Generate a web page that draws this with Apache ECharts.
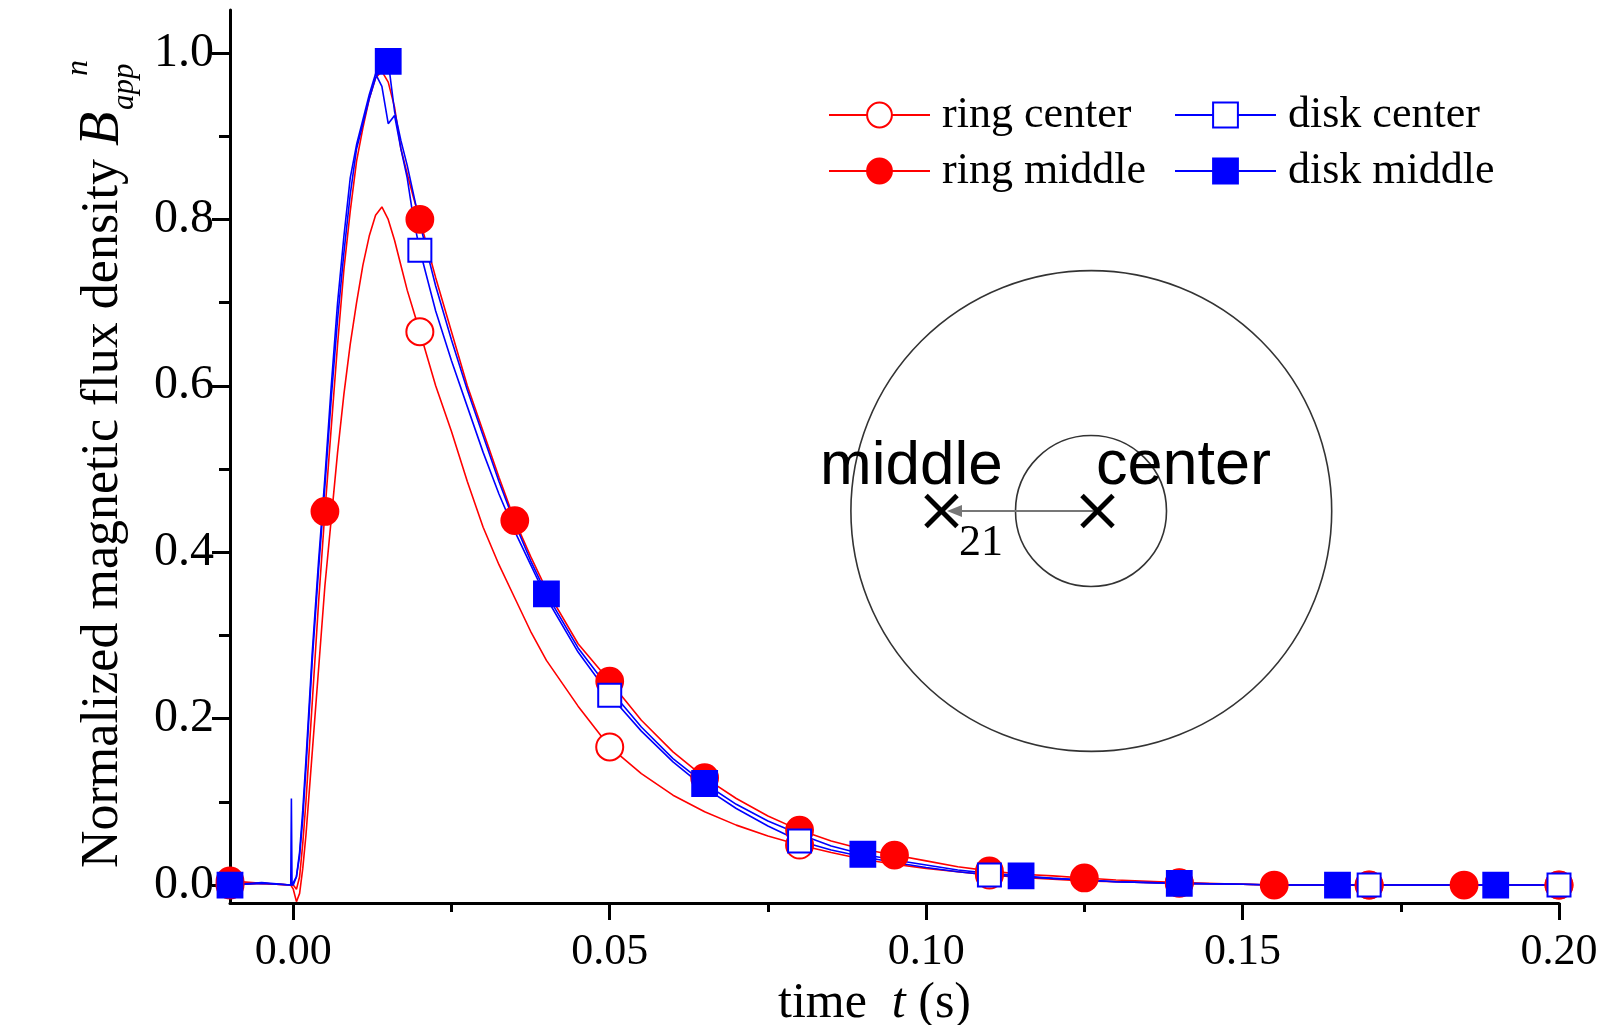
<!DOCTYPE html>
<html>
<head>
<meta charset="utf-8">
<script src="https://cdn.jsdelivr.net/npm/echarts@6/dist/echarts.min.js"></script>
<style>
html, body { margin: 0; padding: 0; background: #fff; }
#chart { width: 1610px; height: 1025px; }
</style>
</head>
<body>
<div id="chart"></div>
<script>
// time (s)
var time = [
    -0.01, -0.005, -0.0004, -0.0003, -0.0002, 0,
    0.0005, 0.001, 0.0015, 0.002, 0.003, 0.004, 0.005, 0.006, 0.007, 0.008, 0.009, 0.01,
    0.011, 0.012, 0.013, 0.014, 0.015, 0.016, 0.017, 0.018, 0.019, 0.02,
    0.0225, 0.025, 0.0275, 0.03, 0.0325, 0.035, 0.0375, 0.04,
    0.045, 0.05, 0.055, 0.06, 0.065, 0.07, 0.075, 0.08,
    0.085, 0.09, 0.095, 0.1, 0.105, 0.11, 0.115, 0.12, 0.125, 0.13,
    0.14, 0.15, 0.155, 0.16, 0.165, 0.17, 0.18, 0.185, 0.19, 0.2
];
var ringCenter = [
    0, 0.002, 0, 0, 0, -0.005,
    -0.02, -0.01, 0.02, 0.06, 0.16, 0.26, 0.36, 0.44, 0.52, 0.59, 0.65, 0.70,
    0.745, 0.78, 0.805, 0.815, 0.80, 0.775, 0.745, 0.715, 0.69, 0.665,
    0.60, 0.545, 0.485, 0.43, 0.385, 0.345, 0.305, 0.27,
    0.215, 0.166, 0.134, 0.108, 0.088, 0.072, 0.059, 0.048,
    0.039, 0.031, 0.025, 0.02, 0.016, 0.012, 0.009, 0.007, 0.005, 0.004,
    0.002, 0.001, 0, 0, 0, 0, 0, 0, 0, 0
];
var ringMiddle = [
    0.005, 0.002, 0, 0, 0, 0,
    -0.005, 0.01, 0.05, 0.10, 0.22, 0.34, 0.449, 0.55, 0.65, 0.74, 0.81, 0.87,
    0.91, 0.945, 0.97, 0.978, 0.965, 0.935, 0.885, 0.855, 0.826, 0.80,
    0.73, 0.665, 0.60, 0.545, 0.49, 0.438, 0.395, 0.355,
    0.29, 0.245, 0.198, 0.16, 0.129, 0.104, 0.083, 0.066,
    0.053, 0.043, 0.036, 0.029, 0.022, 0.017, 0.013, 0.011, 0.0085, 0.006,
    0.003, 0.001, 0, 0, 0, 0, 0, 0, 0, 0
];
var diskCenter = [
    0, 0.003, 0, 0.104, 0, 0,
    0.01, 0.04, 0.09, 0.15, 0.28, 0.39, 0.49, 0.60, 0.70, 0.78, 0.85, 0.89,
    0.92, 0.95, 0.975, 0.96, 0.915, 0.925, 0.885, 0.85, 0.80, 0.763,
    0.69, 0.63, 0.575, 0.52, 0.47, 0.425, 0.385, 0.345,
    0.28, 0.228, 0.185, 0.148, 0.117, 0.092, 0.071, 0.053,
    0.042, 0.034, 0.027, 0.021, 0.016, 0.012, 0.01, 0.008, 0.006, 0.004,
    0.002, 0.001, 0, 0, 0, 0, 0, 0, 0, 0
];
var diskMiddle = [
    0, 0.002, 0, 0, 0, 0,
    0.01, 0.035, 0.08, 0.14, 0.27, 0.38, 0.48, 0.585, 0.68, 0.76, 0.83, 0.885,
    0.915, 0.945, 0.97, 0.985, 0.99, 0.93, 0.895, 0.865, 0.83, 0.795,
    0.72, 0.655, 0.595, 0.54, 0.485, 0.435, 0.39, 0.35,
    0.285, 0.235, 0.19, 0.152, 0.122, 0.097, 0.077, 0.061,
    0.047, 0.037, 0.03, 0.024, 0.018, 0.014, 0.011, 0.008, 0.006, 0.004,
    0.002, 0.001, 0, 0, 0, 0, 0, 0, 0, 0
];
// times where the markers sit
var ringCenterMarks = [-0.01, 0.02, 0.05, 0.08, 0.11, 0.14, 0.17, 0.2];
var ringMiddleMarks = [-0.01, 0.005, 0.02, 0.035, 0.05, 0.065, 0.08, 0.095, 0.11, 0.125, 0.14, 0.155, 0.17, 0.185, 0.2];
var diskCenterMarks = [-0.01, 0.02, 0.05, 0.08, 0.11, 0.14, 0.17, 0.2];
var diskMiddleMarks = [-0.01, 0.015, 0.04, 0.065, 0.09, 0.115, 0.14, 0.165, 0.19];
// tick labels
var xMajor = [0, 0.05, 0.10, 0.15, 0.20];
var xMinor = [0.025, 0.075, 0.125, 0.175];
var yMajor = [0, 0.2, 0.4, 0.6, 0.8, 1.0];
var yMinor = [0.1, 0.3, 0.5, 0.7, 0.9];

var serif = '"Liberation Serif", "Times New Roman", serif';
var sans = '"Liberation Sans", Arial, sans-serif';

function isMark(marks, t) {
    for (var i = 0; i < marks.length; i++) {
        if (Math.abs(marks[i] - t) < 1e-7) return true;
    }
    return false;
}

function makeSeries(name, vals, marks, symbol, color, size) {
    return {
        name: name,
        type: 'line',
        xAxisIndex: 0,
        yAxisIndex: 0,
        symbol: symbol,
        symbolSize: size,
        showSymbol: true,
        animation: false,
        lineStyle: { color: color, width: 1.6 },
        itemStyle: { color: color, borderColor: color, borderWidth: 1.8 },
        emphasis: { disabled: true },
        data: time.map(function (t, i) {
            var p = { value: [t, vals[i]] };
            if (!isMark(marks, t)) p.symbol = 'none';
            return p;
        })
    };
}

var myChart = echarts.init(document.getElementById('chart'), null, { renderer: 'canvas' });

var option = {
    backgroundColor: '#fff',
    animation: false,
    grid: { left: 230, right: 51, top: 10, bottom: 122, containLabel: false, outerBoundsMode: 'none' },
    legend: [{
        data: ['ring center', 'ring middle'],
        orient: 'vertical',
        left: 823,
        top: 88,
        itemWidth: 101,
        itemHeight: 31,
        itemGap: 12,
        selectedMode: false,
        textStyle: { fontFamily: serif, fontSize: 44, color: '#000', padding: [0, 0, 0, 7] }
    }, {
        data: ['disk center', 'disk middle'],
        orient: 'vertical',
        left: 1169,
        top: 88,
        itemWidth: 101,
        itemHeight: 31,
        itemGap: 12,
        selectedMode: false,
        textStyle: { fontFamily: serif, fontSize: 44, color: '#000', padding: [0, 0, 0, 7] }
    }],
    xAxis: [{
        type: 'value',
        position: 'bottom',
        min: -0.01,
        max: 0.2,
        axisLine: { show: true, onZero: false, lineStyle: { color: '#000', width: 3 } },
        axisTick: { show: true, length: 17, customValues: xMajor, lineStyle: { color: '#000', width: 3 } },
        axisLabel: {
            show: true, customValues: xMajor, margin: 27,
            fontFamily: serif, fontSize: 44, color: '#000',
            formatter: function (v) { return v.toFixed(2); }
        },
        splitLine: { show: false },
        name: '{a|time  }{b|t}{a| (s)}',
        nameLocation: 'middle',
        nameGap: 68,
        nameTextStyle: {
            padding: [0, 40, 0, 0],
            rich: {
                a: { fontFamily: serif, fontSize: 50, color: '#000', lineHeight: 50 },
                b: { fontFamily: serif, fontSize: 50, color: '#000', lineHeight: 50, fontStyle: 'italic' }
            }
        }
    }, {
        type: 'value',
        position: 'bottom',
        min: -0.01,
        max: 0.2,
        axisLine: { show: false, onZero: false },
        axisTick: { show: true, length: 9, customValues: xMinor, lineStyle: { color: '#000', width: 3 } },
        axisLabel: { show: false },
        splitLine: { show: false }
    }],
    yAxis: [{
        type: 'value',
        position: 'left',
        min: -0.0216,
        max: 1.0517,
        axisLine: { show: true, onZero: false, lineStyle: { color: '#000', width: 3 } },
        axisTick: { show: true, length: 18, customValues: yMajor, lineStyle: { color: '#000', width: 3 } },
        axisLabel: {
            show: true, customValues: yMajor, margin: 16,
            fontFamily: serif, fontSize: 48, color: '#000',
            formatter: function (v) { return v.toFixed(1); }
        },
        splitLine: { show: false }
    }, {
        type: 'value',
        position: 'left',
        min: -0.0216,
        max: 1.0517,
        axisLine: { show: false, onZero: false },
        axisTick: { show: true, length: 11, customValues: yMinor, lineStyle: { color: '#000', width: 3 } },
        axisLabel: { show: false },
        splitLine: { show: false }
    }],
    series: [
        makeSeries('ring center', ringCenter, ringCenterMarks, 'emptyCircle', '#ff0000', 27),
        makeSeries('ring middle', ringMiddle, ringMiddleMarks, 'circle', '#ff0000', 27),
        makeSeries('disk center', diskCenter, diskCenterMarks, 'emptyRect', '#0000ff', 23),
        makeSeries('disk middle', diskMiddle, diskMiddleMarks, 'rect', '#0000ff', 25)
    ],
    graphic: [
        // y axis title, rotated
        {
            type: 'group', x: 103, y: 868, rotation: Math.PI / 2, silent: true,
            children: [
                { type: 'text', x: 0, y: 0, style: { text: 'Normalized magnetic flux density', font: '52px ' + serif, fill: '#000', verticalAlign: 'middle', align: 'left' } },
                { type: 'text', x: 722, y: 0, style: { text: 'B', font: 'italic 56px ' + serif, fill: '#000', verticalAlign: 'middle', align: 'left' } },
                { type: 'text', x: 758, y: 22, style: { text: 'app', font: 'italic 31px ' + serif, fill: '#000', verticalAlign: 'middle', align: 'left' } },
                { type: 'text', x: 792, y: -24, style: { text: 'n', font: 'italic 32px ' + serif, fill: '#000', verticalAlign: 'middle', align: 'left' } }
            ]
        },
        // inset sketch
        { type: 'circle', silent: true, shape: { cx: 1091.3, cy: 511, r: 240.4 }, style: { fill: 'none', stroke: '#333', lineWidth: 1.6 } },
        { type: 'circle', silent: true, shape: { cx: 1091, cy: 511, r: 75.5 }, style: { fill: 'none', stroke: '#333', lineWidth: 1.6 } },
        { type: 'line', silent: true, shape: { x1: 1097.7, y1: 511, x2: 958, y2: 511 }, style: { stroke: '#777', lineWidth: 2 } },
        { type: 'polygon', silent: true, shape: { points: [[947, 511], [962, 505], [962, 517]] }, style: { fill: '#777' } },
        { type: 'line', silent: true, shape: { x1: 926, y1: 495.5, x2: 957, y2: 526.5 }, style: { stroke: '#000', lineWidth: 5 } },
        { type: 'line', silent: true, shape: { x1: 926, y1: 526.5, x2: 957, y2: 495.5 }, style: { stroke: '#000', lineWidth: 5 } },
        { type: 'line', silent: true, shape: { x1: 1082, y1: 495.5, x2: 1113, y2: 526.5 }, style: { stroke: '#000', lineWidth: 5 } },
        { type: 'line', silent: true, shape: { x1: 1082, y1: 526.5, x2: 1113, y2: 495.5 }, style: { stroke: '#000', lineWidth: 5 } },
        { type: 'text', silent: true, x: 820, y: 467, style: { text: 'middle', font: '62px ' + sans, fill: '#000', verticalAlign: 'middle', align: 'left' } },
        { type: 'text', silent: true, x: 1096, y: 467, style: { text: 'center', font: '63px ' + sans, fill: '#000', verticalAlign: 'middle', align: 'left' } },
        { type: 'text', silent: true, x: 981, y: 543, style: { text: '21', font: '44px ' + serif, fill: '#000', verticalAlign: 'middle', align: 'center' } }
    ]
};

myChart.setOption(option);
</script>
</body>
</html>
